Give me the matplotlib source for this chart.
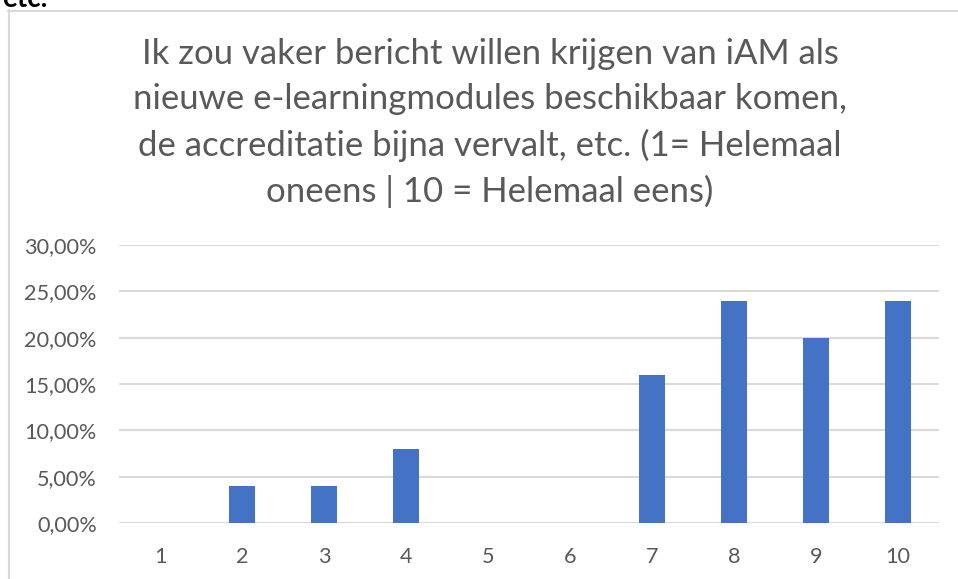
import matplotlib.pyplot as plt
from matplotlib.lines import Line2D
from matplotlib.ticker import FuncFormatter

plt.rcParams['font.family'] = ['Lato', 'DejaVu Sans']

scores = ['1', '2', '3', '4', '5', '6', '7', '8', '9', '10']
shares = [0.00, 0.04, 0.04, 0.08, 0.00, 0.00, 0.16, 0.24, 0.20, 0.24]
yticks = [0.00, 0.05, 0.10, 0.15, 0.20, 0.25, 0.30]

title = ('Ik zou vaker bericht willen krijgen van iAM als\n'
         'nieuwe e-learningmodules beschikbaar komen,\n'
         'de accreditatie bijna vervalt, etc. (1= Helemaal\n'
         'oneens | 10 = Helemaal eens)')

W, H = 958, 579
fig = plt.figure(figsize=(W / 100, H / 100), dpi=100)

# chart frame (only top and left edge visible)
fig.add_artist(Line2D([8.5 / W, 8.5 / W], [0, 1 - 10 / H], color='#d9d9d9', lw=1.5))
fig.add_artist(Line2D([8 / W, 1], [1 - 10.5 / H, 1 - 10.5 / H], color='#d9d9d9', lw=1.5))
# leftover text from the page above
fig.text(2 / W, 1 + 14 / H, 'etc.', fontsize=20, fontweight='bold', color='black', va='top')

ax = fig.add_axes([119 / W, 1 - 523 / H, (939 - 119) / W, (523 - 245) / H])
ax.bar(range(len(scores)), shares, width=0.32, color='#4472c4', zorder=3)
ax.set_xlim(-0.5, len(scores) - 0.5)
ax.set_ylim(0, 0.30)
ax.set_yticks(yticks)
ax.yaxis.set_major_formatter(FuncFormatter(lambda v, p: f'{v * 100:.2f}%'.replace('.', ',')))
ax.set_xticks(range(len(scores)))
ax.set_xticklabels(scores)
ax.grid(axis='y', color='#d9d9d9', lw=1.5, zorder=0)
for s in ax.spines.values():
    s.set_visible(False)
ax.tick_params(length=0, labelsize=15.6, colors='#595959')
ax.tick_params(axis='x', pad=17)
ax.tick_params(axis='y', pad=16)

fig.text(490 / W, 1 - 38 / H, title, ha='center', va='top', fontsize=25,
         color='#595959', linespacing=1.5)

fig.savefig('out.png', dpi=100)
